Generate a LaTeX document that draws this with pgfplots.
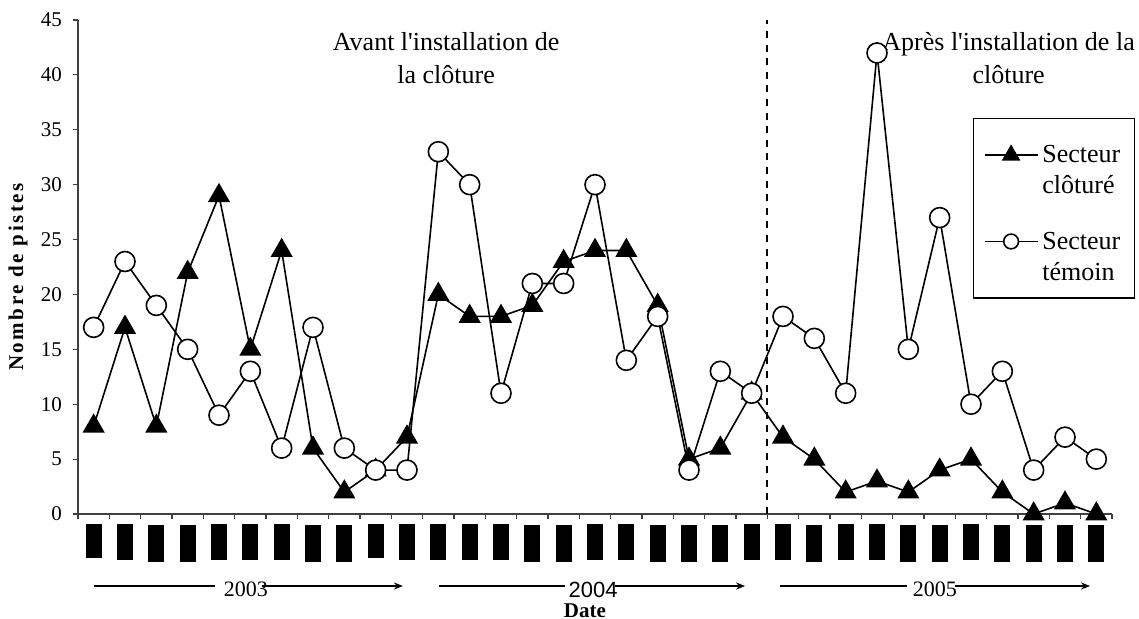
\documentclass[border=0pt]{standalone}
\usepackage{fontspec}
\setmainfont{Liberation Serif}
\newfontfamily\arialfont{Liberation Sans}
\usepackage{pgfplots}
\pgfplotsset{compat=1.18}
\usetikzlibrary{arrows.meta}

\newcommand{\barA}{\raisebox{0pt}[16.8pt][0pt]{\rule{8pt}{16.8pt}}}
\newcommand{\barB}{\raisebox{0pt}[18pt][0pt]{\rule{8pt}{18pt}}}
\newcommand{\barC}{\raisebox{0pt}[18.8pt][0pt]{\rule{8pt}{18.3pt}}}

\pgfplotsset{
  trileg/.style={legend image code/.code={\draw[mark repeat=2,mark phase=2,##1,mark size=4.6pt] plot coordinates {(0pt,5pt) (13.25pt,5pt) (26.5pt,5pt)};}},
  circleg/.style={legend image code/.code={\draw[mark repeat=2,mark phase=2,##1,mark size=3.7pt] plot coordinates {(0pt,8pt) (13.25pt,8pt) (26.5pt,8pt)};}},
}

\begin{document}
\begin{tikzpicture}
\useasboundingbox (-39pt,-52.5pt) rectangle (530.5pt,257pt);
\begin{axis}[
  scale only axis, width=517pt, height=247pt,
  xmin=0, xmax=33, ymin=0, ymax=45,
  axis lines*=left,
  axis line style={black!75, line width=0.6pt},
  clip=false,
  xtick={0,...,33}, xticklabels={},
  ytick={0,5,...,45},
  tick align=outside, major tick length=2.5pt,
  tick style={black!75, line width=0.6pt},
  extra x ticks={0.5,1.5,2.5,3.5,4.5,5.5,6.5,7.5,8.5,9.5,10.5,11.5,12.5,13.5,14.5,15.5,16.5,17.5,18.5,19.5,20.5,21.5,22.5,23.5,24.5,25.5,26.5,27.5,28.5,29.5,30.5,31.5,32.5},
  extra x tick labels={\barA,\barB,\barC,\barC,\barB,\barB,\barB,\barC,\barC,\barA,\barB,\barB,\barB,\barB,\barC,\barC,\barB,\barB,\barC,\barC,\barC,\barB,\barB,\barC,\barB,\barB,\barC,\barC,\barB,\barC,\barC,\barC,\barC},
  extra x tick style={major tick length=0pt, tick style={draw=none}, xticklabel style={anchor=north, inner sep=0pt, yshift=-5pt}},
  yticklabel style={font=\fontsize{10.5}{12}\selectfont, xshift=-2pt},
  /pgf/number format/assume math mode=true,
  xlabel={\textbf{Date}},
  xlabel style={at={(axis cs:16.18,-8.8)}, anchor=center, font=\fontsize{10.5}{12}\selectfont},
  ylabel={\textbf{\addfontfeature{LetterSpace=12}Nombre de pistes}},
  ylabel style={at={(axis cs:-1.915,21.7)}, anchor=center, font=\fontsize{10.5}{12}\selectfont},
  legend style={at={(axis cs:28.57,36.07)}, anchor=north west, draw=black, line width=0.6pt,
    font=\fontsize{13}{15.5}\selectfont, row sep=13.5pt, inner xsep=5pt, inner ysep=5.5pt},
  legend cell align=left,
]
\addplot[black, line width=0.8pt, mark=triangle*, mark size=5.6pt, mark options={solid, fill=black}, trileg]
coordinates {(0.5,8) (1.5,17) (2.5,8) (3.5,22) (4.5,29) (5.5,15) (6.5,24) (7.5,6) (8.5,2) (9.5,4) (10.5,7) (11.5,20) (12.5,18) (13.5,18) (14.5,19) (15.5,23) (16.5,24) (17.5,24) (18.5,19) (19.5,5) (20.5,6) (21.5,11) (22.5,7) (23.5,5) (24.5,2) (25.5,3) (26.5,2) (27.5,4) (28.5,5) (29.5,2) (30.5,0) (31.5,1) (32.5,0)};
\addlegendentry{\vbox{\kern6pt\hbox{Secteur}\hbox{clôturé}}}
\addplot[black, line width=0.8pt, mark=*, mark size=5pt, mark options={solid, fill=white}, circleg]
coordinates {(0.5,17) (1.5,23) (2.5,19) (3.5,15) (4.5,9) (5.5,13) (6.5,6) (7.5,17) (8.5,6) (9.5,4) (10.5,4) (11.5,33) (12.5,30) (13.5,11) (14.5,21) (15.5,21) (16.5,30) (17.5,14) (18.5,18) (19.5,4) (20.5,13) (21.5,11) (22.5,18) (23.5,16) (24.5,11) (25.5,42) (26.5,15) (27.5,27) (28.5,10) (29.5,13) (30.5,4) (31.5,7) (32.5,5)};
\addlegendentry{\vbox{\hbox{Secteur}\hbox{témoin}}}

\draw[black, line width=1pt, dash pattern=on 3.5pt off 3.3pt] (axis cs:22,0) -- (axis cs:22,45);

\node[align=center, font=\fontsize{13}{16.5}\selectfont] at (axis cs:11.75,41.5) {Avant l\textquotesingle installation de\\la clôture};
\node[align=center, font=\fontsize{13}{16.5}\selectfont] at (axis cs:29.7,41.5) {Après l\textquotesingle installation de la\\clôture};

\draw[black, line width=0.9pt] (axis cs:0.51,-6.56) -- (axis cs:4.37,-6.56);
\draw[black, line width=0.9pt, -{Stealth[length=4.5pt,width=3.5pt]}] (axis cs:5.87,-6.56) -- (axis cs:10.37,-6.56);
\node[font=\fontsize{11}{13}\selectfont, inner sep=0pt] at (axis cs:5.36,-6.9) {2003};
\draw[black, line width=0.9pt] (axis cs:11.52,-6.56) -- (axis cs:15.54,-6.56);
\draw[black, line width=0.9pt, -{Stealth[length=4.5pt,width=3.5pt]}] (axis cs:17.14,-6.56) -- (axis cs:21.29,-6.56);
\node[font=\arialfont\fontsize{11}{13}\selectfont, inner sep=0pt] at (axis cs:16.44,-6.9) {2004};
\draw[black, line width=0.9pt] (axis cs:22.41,-6.56) -- (axis cs:26.46,-6.56);
\draw[black, line width=0.9pt, -{Stealth[length=4.5pt,width=3.5pt]}] (axis cs:27.99,-6.56) -- (axis cs:32.30,-6.56);
\node[font=\fontsize{11}{13}\selectfont, inner sep=0pt] at (axis cs:27.35,-6.9) {2005};
\end{axis}
\end{tikzpicture}
\end{document}
